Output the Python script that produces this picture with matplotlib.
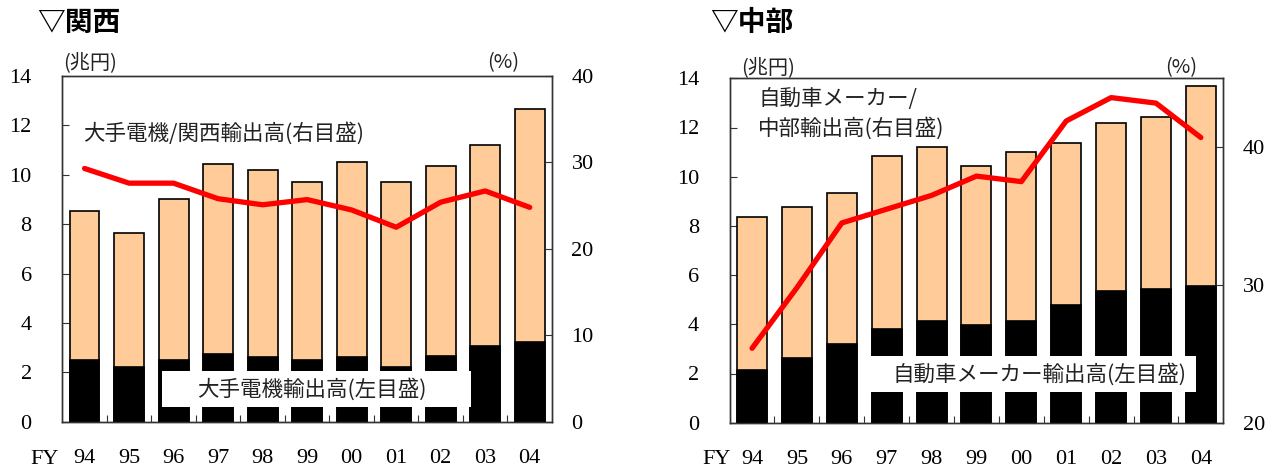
import numpy as np
import matplotlib
matplotlib.use('Agg')
import matplotlib.pyplot as plt
from matplotlib.patches import Rectangle

# データ
years = ['94', '95', '96', '97', '98', '99', '00', '01', '02', '03', '04']

# 関西
kansai_total = [8.54, 7.66, 9.01, 10.44, 10.20, 9.72, 10.51, 9.72, 10.37, 11.22, 12.67]
kansai_denki = [2.51, 2.20, 2.51, 2.75, 2.60, 2.51, 2.60, 2.20, 2.67, 3.08, 3.23]
kansai_share = [29.3, 27.6, 27.6, 25.8, 25.1, 25.7, 24.5, 22.5, 25.4, 26.7, 24.8]

# 中部
chubu_total = [8.36, 8.76, 9.33, 10.84, 11.22, 10.45, 10.99, 11.38, 12.18, 12.43, 13.70]
chubu_auto = [2.14, 2.64, 3.19, 3.82, 4.15, 3.98, 4.15, 4.78, 5.34, 5.42, 5.57]
chubu_share = [25.4, 29.8, 34.5, 35.5, 36.5, 37.9, 37.5, 41.9, 43.6, 43.2, 40.7]

W, H = 1279, 471
JP = ['Noto Sans CJK JP', 'DejaVu Sans']
NUM = 'Liberation Serif'
ORANGE = '#FFCC99'
SPINE = '#333333'

fig = plt.figure(figsize=(W / 100, H / 100), dpi=100)


def px(x, y):
    return x / W, 1 - y / H


def draw_panel(rect, total, part, share, ylim2, yticks2):
    ax = fig.add_axes(rect)
    x = np.arange(len(years))
    ax.bar(x, total, width=0.67, color=ORANGE, edgecolor='black', linewidth=1.2, zorder=2)
    ax.bar(x, part, width=0.67, color='black', edgecolor='black', linewidth=1.2, zorder=3)
    ax.set_xlim(-0.5, len(years) - 0.5)
    ax.set_ylim(0, 14)
    ax.set_yticks(range(0, 15, 2))
    ax.set_xticks(x)
    ax.set_xticklabels(years)
    ax.set_xticks(np.arange(0.5, len(years) - 1, 1), minor=True)
    ax.tick_params(axis='x', which='major', length=0, pad=20)
    ax.tick_params(axis='x', which='minor', direction='in', length=5, width=0.8, color=SPINE)
    ax.tick_params(axis='y', direction='in', length=5, width=0.8, color=SPINE, pad=22)
    for s in ax.spines.values():
        s.set_color(SPINE)
        s.set_linewidth(1.0)
    for lab in ax.get_xticklabels() + ax.get_yticklabels():
        lab.set_fontfamily(NUM)
        lab.set_fontsize(16)

    ax2 = ax.twinx()
    ax2.plot(x, share, color='#FF0000', linewidth=3.8, solid_capstyle='round', zorder=5)
    ax2.set_ylim(*ylim2)
    ax2.set_yticks(yticks2)
    ax2.tick_params(axis='y', direction='in', length=5, width=0.8, color=SPINE, pad=14)
    for lab in ax2.get_yticklabels():
        lab.set_fontfamily(NUM)
        lab.set_fontsize(16)
    for s in ax2.spines.values():
        s.set_color(SPINE)
        s.set_linewidth(1.0)
    return ax, ax2


# 関西
axL, axL2 = draw_panel([62.3 / W, 1 - 421.7 / H, 489.7 / W, 345.7 / H],
                       kansai_total, kansai_denki, kansai_share, (0, 40), [0, 10, 20, 30, 40])
axL.add_patch(Rectangle((1.73, 0.61), 6.95, 1.46, facecolor='white', edgecolor='none', zorder=4))
axL.text(5.1, 1.30, '大手電機輸出高(左目盛)', family=JP, fontsize=15.5, color='#222222',
         ha='center', va='center', zorder=6)

# 中部
axR, axR2 = draw_panel([729.6 / W, 1 - 422.7 / H, 493.7 / W, 344.4 / H],
                       chubu_total, chubu_auto, chubu_share, (20, 45), [20, 30, 40])
axR.add_patch(Rectangle((2.45, 1.24), 7.44, 1.47, facecolor='white', edgecolor='none', zorder=4))
axR.text(6.4, 1.98, '自動車メーカー輸出高(左目盛)', family=JP, fontsize=15.5, color='#222222',
         ha='center', va='center', zorder=6)

# 見出し・注記
fig.text(*px(37, 23), '▽関西', family=JP, fontsize=20, fontweight='bold', ha='left', va='center')
fig.text(*px(710, 23), '▽中部', family=JP, fontsize=20, fontweight='bold', ha='left', va='center')

fig.text(*px(83, 133), '大手電機/関西輸出高(右目盛)', family=JP, fontsize=15.5, color='#222222',
         ha='left', va='center')
fig.text(*px(758, 99), '自動車メーカー/', family=JP, fontsize=15.5, color='#222222',
         ha='left', va='center')
fig.text(*px(758, 128), '中部輸出高(右目盛)', family=JP, fontsize=15.5, color='#222222',
         ha='left', va='center')

fig.text(*px(63, 63), '(兆円)', family=JP, fontsize=14.5, color='#222222', ha='left', va='center')
fig.text(*px(487, 63), '(%)', family=JP, fontsize=14.5, color='#222222', ha='left', va='center')
fig.text(*px(741, 68), '(兆円)', family=JP, fontsize=14.5, color='#222222', ha='left', va='center')
fig.text(*px(1165, 68), '(%)', family=JP, fontsize=14.5, color='#222222', ha='left', va='center')

fig.text(*px(45, 460), 'FY', family=NUM, fontsize=16, ha='center', va='center')
fig.text(*px(717, 460), 'FY', family=NUM, fontsize=16, ha='center', va='center')

fig.savefig('out.png', dpi=100)
